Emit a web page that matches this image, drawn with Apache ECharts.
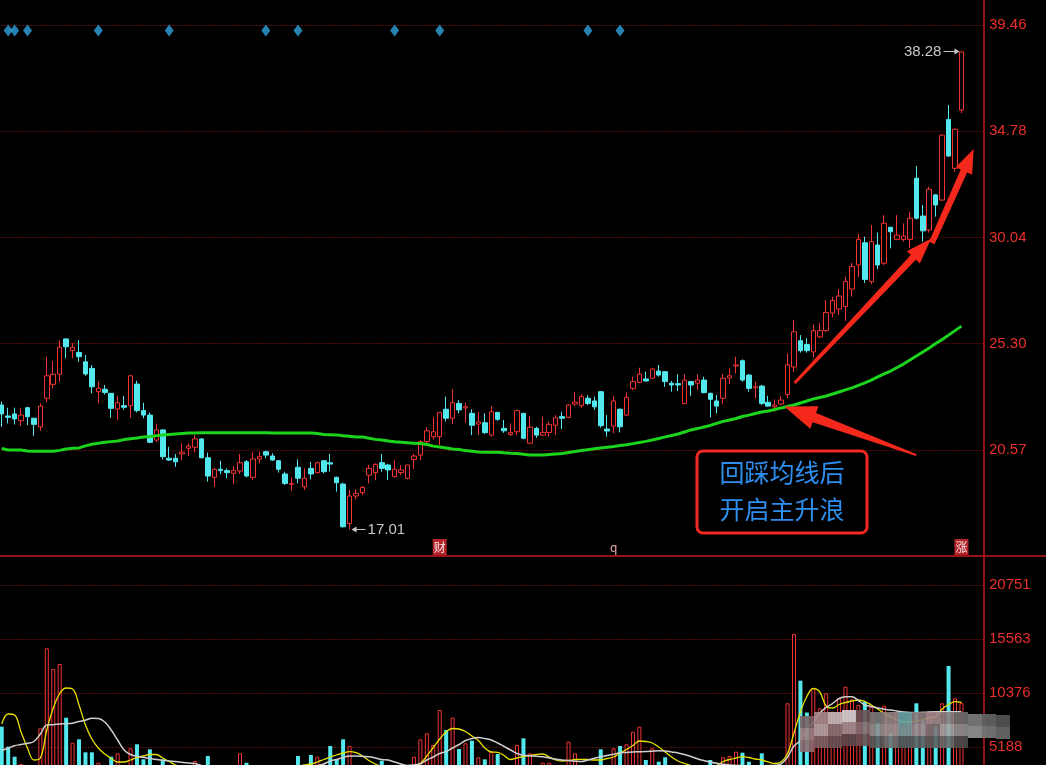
<!DOCTYPE html>
<html><head><meta charset="utf-8">
<script src="https://cdn.jsdelivr.net/npm/echarts@6/dist/echarts.min.js"></script>
<style>html,body{margin:0;padding:0;background:#000;overflow:hidden}#c{width:1046px;height:765px}</style>
</head><body><div id="c"></div>
<script>
// ---------- data ----------
const openP = [
22.55,22.06,22.15,21.85,22.43,21.96,21.58,22.85,23.47,23.92,
25.49,24.97,24.89,24.47,24.18,23.14,23.25,23.07,22.37,22.52,
22.52,23.48,22.30,22.10,20.99,21.44,20.18,20.18,20.37,20.62,
20.67,21.04,20.20,19.33,19.69,19.63,19.51,19.61,20.02,19.33,
20.15,20.47,20.28,20.07,19.48,19.02,19.78,18.91,19.73,19.54,
20.07,19.98,19.33,19.03,17.28,18.50,18.65,19.43,19.54,19.98,
19.88,19.36,19.54,19.29,20.13,20.32,20.92,21.14,21.14,22.36,
21.96,22.62,22.42,22.18,21.70,21.76,21.21,22.22,21.51,21.24,
21.36,22.18,20.85,21.51,21.21,21.33,21.65,22.03,22.00,22.59,
22.52,22.85,22.73,23.14,21.48,21.61,22.36,22.10,23.29,23.56,
23.71,23.74,24.06,24.03,23.52,23.50,22.62,23.59,23.52,23.66,
23.07,22.73,22.85,23.75,24.29,24.52,23.88,23.32,23.39,22.67,
22.47,22.59,23.01,24.24,25.41,25.24,24.91,25.58,25.86,26.64,
26.82,26.93,27.71,28.78,29.77,28.04,29.67,28.86,30.46,29.92,
29.92,29.92,32.64,30.96,30.34,31.90,31.67,35.26,33.08,35.68];
const closeP = [
22.15,22.00,21.93,22.10,22.03,21.69,22.50,23.85,23.92,25.12,
25.14,25.12,24.70,23.93,23.36,23.29,23.11,22.40,22.65,22.45,
23.85,22.30,22.10,20.89,21.44,20.25,20.10,20.02,20.45,20.72,
21.04,20.20,19.39,19.69,19.63,19.54,19.63,19.98,19.39,20.15,
20.25,20.32,20.10,19.69,19.06,19.06,19.29,19.29,19.48,19.98,
19.58,19.92,19.09,17.13,18.50,18.62,18.88,19.73,19.91,19.73,
19.66,19.69,19.66,19.88,20.28,20.92,21.40,21.36,22.21,21.96,
22.65,22.33,22.47,21.65,21.80,21.32,22.25,21.91,21.40,21.32,
22.30,21.07,21.56,21.21,21.33,21.69,21.98,21.96,22.55,22.68,
22.92,22.62,22.47,21.63,21.39,22.73,21.58,22.89,23.59,23.92,
23.62,24.15,23.88,23.59,23.44,23.44,23.66,23.44,23.66,23.10,
22.80,22.50,23.74,23.85,24.33,23.66,23.29,23.36,22.62,22.50,
22.55,22.77,24.33,25.81,24.97,24.97,25.86,25.86,26.67,27.20,
27.40,28.05,28.71,29.92,28.14,29.82,28.78,30.64,30.26,30.11,
30.07,30.86,30.86,30.30,32.15,31.45,34.56,33.63,34.82,38.26];
const lowP = [
21.58,21.73,21.68,21.62,21.65,21.18,21.40,22.67,23.29,23.59,
24.63,24.63,24.47,23.85,23.07,22.62,23.02,21.98,21.88,22.33,
21.98,22.22,21.96,20.85,20.90,20.13,20.06,19.80,20.10,20.28,
20.43,20.18,19.14,18.91,19.47,19.29,19.02,19.48,19.33,19.21,
19.95,20.18,20.07,19.54,18.99,18.73,19.06,18.77,19.24,19.51,
19.51,19.58,18.69,17.10,17.01,18.35,18.54,19.06,19.21,19.58,
19.21,19.33,19.43,19.24,19.69,20.10,20.85,21.02,20.77,21.81,
21.70,22.18,21.76,21.21,21.21,21.26,21.14,21.85,21.31,21.17,
21.21,21.02,20.81,21.09,21.18,21.14,21.21,21.48,21.96,22.50,
22.43,22.55,22.33,21.54,21.14,21.29,21.33,22.07,23.22,23.52,
23.59,23.71,23.81,23.36,23.14,23.17,22.58,22.96,23.22,23.07,
22.00,22.18,22.59,23.48,23.96,23.59,23.14,22.85,22.55,22.47,
22.25,22.55,22.85,24.02,24.88,24.88,24.66,25.53,25.81,26.45,
26.55,26.30,27.37,28.24,27.98,27.93,28.59,28.78,29.52,29.89,
29.82,29.52,30.81,29.82,30.22,30.93,31.64,33.60,32.93,35.54];
const highP = [
22.70,22.43,22.43,22.43,22.47,21.96,22.62,24.70,24.51,25.44,
25.52,25.30,25.44,24.77,24.33,23.59,23.44,23.07,22.96,22.95,
23.88,23.63,22.65,22.21,21.72,21.47,20.69,20.37,20.84,20.84,
21.21,21.07,20.43,19.73,20.07,19.73,19.83,20.37,20.10,20.47,
20.47,20.52,20.40,20.10,19.58,19.33,20.13,19.73,20.02,20.02,
20.07,20.37,19.36,19.09,18.77,18.80,18.94,19.88,19.95,20.37,
19.92,20.10,19.88,19.88,20.37,20.99,21.56,22.00,22.21,22.92,
23.25,22.77,22.65,22.36,22.25,22.18,22.50,22.25,21.88,21.73,
22.33,22.18,22.06,21.58,22.03,21.80,22.10,22.25,22.58,23.13,
23.03,22.99,22.92,23.17,22.10,22.95,22.40,23.11,23.81,24.21,
24.03,24.21,24.33,24.06,23.62,23.92,23.92,23.62,23.92,23.81,
23.10,22.99,23.93,24.18,24.70,24.58,23.93,23.59,23.44,22.96,
22.80,22.95,24.85,26.33,25.66,25.52,26.13,26.20,27.22,27.36,
27.70,28.26,28.87,30.16,30.04,30.56,30.22,31.00,30.46,31.00,
30.63,31.15,33.19,31.45,32.26,31.94,34.60,35.90,34.85,38.28];
const ma120 = [
20.61,20.55,20.55,20.55,20.50,20.49,20.49,20.49,20.49,20.53,
20.59,20.62,20.64,20.73,20.80,20.85,20.89,20.92,20.95,21.01,
21.05,21.08,21.13,21.15,21.18,21.22,21.24,21.26,21.28,21.30,
21.30,21.31,21.31,21.31,21.31,21.31,21.31,21.31,21.31,21.31,
21.31,21.31,21.30,21.30,21.30,21.30,21.30,21.30,21.30,21.28,
21.24,21.23,21.22,21.18,21.16,21.13,21.13,21.07,21.02,20.99,
20.95,20.91,20.89,20.87,20.85,20.84,20.79,20.72,20.68,20.64,
20.59,20.57,20.52,20.49,20.46,20.45,20.45,20.45,20.42,20.40,
20.39,20.36,20.32,20.32,20.32,20.35,20.37,20.39,20.44,20.48,
20.52,20.56,20.60,20.64,20.67,20.70,20.75,20.78,20.83,20.88,
20.93,20.99,21.06,21.13,21.19,21.26,21.35,21.44,21.50,21.57,
21.64,21.73,21.82,21.88,21.95,22.04,22.10,22.17,22.24,22.28,
22.35,22.42,22.48,22.55,22.64,22.73,22.82,22.88,22.95,23.04,
23.13,23.22,23.31,23.42,23.53,23.66,23.80,23.93,24.06,24.22,
24.37,24.55,24.73,24.91,25.09,25.29,25.46,25.66,25.86,26.06];
const volume = [
7138,5217,4256,3555,3000,2800,6984,14670,12681,13162,
8003,5601,5927,4678,4678,3680,3000,4256,4582,3100,
5063,5447,4006,4967,3000,4006,2900,2800,3100,2700,
3843,2900,4323,3000,2600,2500,2700,4582,3680,3200,
2800,2600,2500,2900,3300,2600,4323,3200,4419,4256,
3300,5284,4006,5927,5284,3400,3100,3300,3200,3872,
2900,3000,2700,3300,4256,5927,6504,5380,8742,6821,
8003,4996,5543,5793,4198,4000,4736,4515,3300,3100,
5380,6023,4582,3300,3680,3680,3200,3000,5697,4582,
3400,3000,3300,4967,3200,5063,5284,5447,6658,7138,
3939,5063,3775,4198,3300,3000,3400,3100,3200,3300,
3939,3200,4198,4323,4736,4640,3775,3300,4582,3000,
2800,3200,9386,16044,11557,8500,10827,8900,10347,8579,
9866,10981,9770,9223,9540,9059,7500,9127,6500,8579,
7000,8200,9386,7800,8600,7200,9386,12969,9866,9400];
const volMA5 = [
7397,8358,8262,6629,5092,3939,4131,6821,8935,10328,
10856,10760,9223,7301,5956,5092,4515,4083,3747,3747,
3939,4179,4323,4467,4467,4131,3795,3458,3200,3000,
2900,2900,3000,3050,3000,2850,2800,2950,3000,3050,
2950,2900,2850,2900,3000,3200,3362,3458,3555,3747,
3987,4227,4419,4611,4736,4640,4323,3891,3555,3300,
3100,3000,3050,3250,3410,3622,4323,5140,5956,6658,
6966,6917,6677,6245,5812,5092,4707,4679,4371,3987,
4131,4275,4371,4467,4515,4227,3939,3843,3891,3987,
4006,3987,3939,3939,4083,4227,4611,4948,5332,5764,
5716,5572,5188,4707,4227,3843,3603,3400,3350,3300,
3380,3420,3795,3987,4131,4256,4179,4035,3939,3747,
3603,3747,4563,6533,8550,10039,10808,10472,9127,8935,
9271,9463,9607,9703,9559,9223,8838,8406,8070,7782,
7590,7590,7686,7830,7974,8118,8838,9271,9540,9463];
const volMA10 = [
4852,5063,5313,5428,5543,5716,6437,7301,7330,7397,
7426,7474,7638,7762,7945,7926,7590,6821,5860,4900,
4467,4294,4198,4083,3987,3910,3843,3795,3718,3651,
3603,3400,3350,3300,3250,3200,3150,3150,3150,3150,
3100,3050,3000,3000,3000,3050,3100,3200,3300,3400,
3555,3843,3987,4179,4323,4323,4294,4256,4131,3987,
3939,3747,3555,3410,3458,3574,3939,4227,4563,4755,
5092,5428,5812,6004,6100,6004,5860,5572,5236,4900,
4563,4400,4352,4294,4246,4131,4035,3939,3891,3824,
3785,3939,4102,4246,4371,4496,4631,4669,4707,4727,
4746,4784,4823,4804,4707,4611,4467,4275,4064,3891,
3747,3622,3535,3450,3420,3400,3380,3380,3390,3400,
3420,3555,4227,5284,5812,6917,7541,8454,8982,9367,
9847,10020,10020,9655,9223,9079,8935,8810,8742,8646,
8550,8502,8502,8521,8550,8569,8579,8579,8579,8579];
const priceTicks = ['', '20.57', '25.30', '30.04', '34.78', '39.46'];
const volTicks = ['', '5188', '10376', '15563', '20751'];
const signalDays = [1, 2, 4, 15, 26, 41, 46, 61, 68, 91, 96];
const eventMarks = [
  {day: 68, text: '财', box: true},
  {day: 95, text: 'q', box: false},
  {day: 149, text: '涨', box: true}
];
const lowMark = {day: 54, value: 17.01, text: '17.01'};
const highMark = {day: 149, value: 38.28, text: '38.28'};
const noteLines = ['回踩均线后', '开启主升浪'];
const SLOTS = 153;
const categories = Array.from({length: SLOTS}, (_, i) => String(i + 1));

// ---------- styles ----------
const RED = '#f23333', CYAN = '#52e8ee', GREEN = '#1bd41b', AXISRED = '#e8302c';
const P_MIN = 15.83, P_MAX = 39.46, P_STEP = (P_MAX - P_MIN) / 5;
const V_MAX = 20751, V_STEP = V_MAX / 4;
const GRIDLINE = {color: '#a81818', type: [1, 2], width: 1};

const chart = echarts.init(document.getElementById('c'), null, {renderer: 'canvas'});
const candles = openP.map((o, i) => [o, closeP[i], lowP[i], highP[i]]);
const volBars = volume.map((v, i) => ({
  value: v,
  itemStyle: closeP[i] >= openP[i]
    ? {color: '#000', borderColor: RED, borderWidth: 1}
    : {color: CYAN, borderColor: CYAN, borderWidth: 0}
}));

const option = {
  animation: false,
  backgroundColor: '#000',
  grid: [
    {left: -1.5, right: 62, top: 25, height: 531, outerBoundsMode: 'none', containLabel: false},
    {left: -1.5, right: 62, top: 585, height: 216, outerBoundsMode: 'none', containLabel: false}
  ],
  xAxis: [
    {type: 'category', gridIndex: 0, data: categories, boundaryGap: true, show: false},
    {type: 'category', gridIndex: 1, data: categories, boundaryGap: true, show: false}
  ],
  yAxis: [
    {type: 'value', gridIndex: 0, position: 'right', min: P_MIN, max: P_MAX, interval: P_STEP,
     axisLine: {show: false}, axisTick: {show: false},
     axisLabel: {color: AXISRED, fontSize: 15, margin: 5, fontFamily: 'Liberation Sans, Arial',
       formatter: v => priceTicks[Math.round((v - P_MIN) / P_STEP)] || ''},
     splitLine: {lineStyle: GRIDLINE}},
    {type: 'value', gridIndex: 1, position: 'right', min: 0, max: V_MAX, interval: V_STEP,
     axisLine: {show: false}, axisTick: {show: false},
     axisLabel: {color: AXISRED, fontSize: 15, margin: 5, fontFamily: 'Liberation Sans, Arial',
       formatter: v => volTicks[Math.round(v / V_STEP)] || ''},
     splitLine: {lineStyle: GRIDLINE}}
  ],
  series: [
    {type: 'candlestick', xAxisIndex: 0, yAxisIndex: 0, data: candles, barWidth: 5, z: 3,
     itemStyle: {color: '#000', color0: CYAN, borderColor: RED, borderColor0: CYAN, borderWidth: 1}},
    {type: 'line', xAxisIndex: 0, yAxisIndex: 0, data: ma120, symbol: 'none', z: 4,
     lineStyle: {color: GREEN, width: 3}},
    {type: 'scatter', xAxisIndex: 0, yAxisIndex: 0, data: signalDays.map(d => [d, 39.22]),
     symbol: 'diamond', symbolSize: [9, 12], itemStyle: {color: '#2fa2dc'}, z: 5},
    {type: 'bar', xAxisIndex: 1, yAxisIndex: 1, data: volBars, barWidth: 4, z: 3},
    {type: 'line', xAxisIndex: 1, yAxisIndex: 1, data: volMA5, symbol: 'none', smooth: 0.4, z: 4,
     lineStyle: {color: '#e6e200', width: 1.3}},
    {type: 'line', xAxisIndex: 1, yAxisIndex: 1, data: volMA10, symbol: 'none', smooth: 0.4, z: 4,
     lineStyle: {color: '#cfcfcf', width: 1.5}}
  ]
};
chart.setOption(option);

// ---------- annotations positioned through the chart's own scales ----------
function pt(day, price) {
  const a = chart.convertToPixel({xAxisIndex: 0, yAxisIndex: 0}, [0, price]);
  const b = chart.convertToPixel({xAxisIndex: 0, yAxisIndex: 0}, [1, price]);
  return [a[0] + day * (b[0] - a[0]), a[1]];
}
function arrow(t, h, wT, wB, wH, lH) {
  const dx = h[0] - t[0], dy = h[1] - t[1], L = Math.hypot(dx, dy);
  const ux = dx / L, uy = dy / L, nx = -uy, ny = ux;
  const bx = h[0] - ux * lH, by = h[1] - uy * lH;
  return [[t[0] + nx * wT / 2, t[1] + ny * wT / 2], [bx + nx * wB / 2, by + ny * wB / 2],
          [bx + nx * wH / 2, by + ny * wH / 2], h, [bx - nx * wH / 2, by - ny * wH / 2],
          [bx - nx * wB / 2, by - ny * wB / 2], [t[0] - nx * wT / 2, t[1] - ny * wT / 2]];
}
const arrows = [
  {tail: [142.0, 20.32], head: [121.5, 22.48], w: [2, 10, 24, 32]},
  {tail: [123.1, 23.53], head: [144.3, 29.96], w: [3, 7, 18, 26]},
  {tail: [144.4, 29.76], head: [150.9, 33.94], w: [6, 7, 18, 24]}
];
const els = [];
arrows.forEach(a => {
  els.push({type: 'polygon', z: 100,
    shape: {points: arrow(pt(a.tail[0], a.tail[1]), pt(a.head[0], a.head[1]), ...a.w)},
    style: {fill: '#f5281c'}});
});
// separators
const gridBottom = pt(0, P_MIN)[1];
const axisX = pt(SLOTS - 0.5, P_MIN)[0];
els.push({type: 'line', z: 90, shape: {x1: 0, y1: gridBottom, x2: 1046, y2: gridBottom},
  style: {stroke: '#c21a1a', lineWidth: 1.5}});
els.push({type: 'line', z: 90, shape: {x1: axisX, y1: 0, x2: axisX, y2: 765},
  style: {stroke: '#c21a1a', lineWidth: 1.5}});
// pixelated privacy mosaic over the volume panel (decoration in the reference)
const mosaic = [
  {x: 800, y: 716, c: ['#7b6366', '#9c8083', '#8c6d70']},
  {x: 814, y: 712, c: ['#a6898c', '#b7a1a4', '#7e6164']},
  {x: 828, y: 712, c: ['#c9b9bc', '#8d7275', '#6a5255']},
  {x: 842, y: 710, c: ['#d9d3d5', '#a48d90', '#5f4a4d']},
  {x: 856, y: 710, c: ['#6d5154', '#8a6e71', '#704f53']},
  {x: 870, y: 712, c: ['#7a7a7a', '#8e8e8e', '#5a5a5a']},
  {x: 884, y: 712, c: ['#968585', '#a39393', '#6f6f6f']},
  {x: 898, y: 712, c: ['#6aa2a6', '#7c9a9c', '#515f60']},
  {x: 912, y: 712, c: ['#8b7b7d', '#9d8689', '#5d5d5d']},
  {x: 926, y: 712, c: ['#a38a8d', '#7f7276', '#5c5c5c']},
  {x: 940, y: 712, c: ['#8e7e80', '#a3a3a3', '#6a6a6a']},
  {x: 954, y: 712, c: ['#6e6e6e', '#8f8f8f', '#4c4c4c']},
  {x: 968, y: 714, c: ['#7d7d7d', '#959595']},
  {x: 982, y: 714, c: ['#666666', '#7a7a7a']},
  {x: 996, y: 715, c: ['#555555', '#6a6a6a']}
];
mosaic.forEach(col => {
  col.c.forEach((color, r) => {
    els.push({type: 'rect', z: 95, shape: {x: col.x, y: col.y + r * 12, width: 14, height: 12},
      style: {fill: color, opacity: 0.9}});
  });
});
// note box
els.push({type: 'rect', z: 100, shape: {x: 697, y: 451, width: 170, height: 82, r: 6},
  style: {fill: 'rgba(0,0,0,0)', stroke: '#f02a22', lineWidth: 3}});
noteLines.forEach((t, k) => {
  els.push({type: 'text', z: 101, x: 782, y: 472 + k * 37,
    style: {text: t, fill: '#2d8ff0', font: '25px "Noto Sans CJK SC"', align: 'center', verticalAlign: 'middle'}});
});
// low / high labels
const lp = pt(lowMark.day, lowMark.value);
els.push({type: 'line', z: 100, shape: {x1: lp[0] + 3, y1: lp[1], x2: lp[0] + 16, y2: lp[1]},
  style: {stroke: '#c8c8c8', lineWidth: 1}});
els.push({type: 'polygon', z: 100, shape: {points: [[lp[0] + 2, lp[1]], [lp[0] + 7, lp[1] - 3], [lp[0] + 7, lp[1] + 3]]},
  style: {fill: '#c8c8c8'}});
els.push({type: 'text', z: 100, x: lp[0] + 18, y: lp[1],
  style: {text: lowMark.text, fill: '#c8c8c8', font: '15px "Liberation Sans"', verticalAlign: 'middle'}});
const hp = pt(highMark.day, highMark.value);
els.push({type: 'line', z: 100, shape: {x1: hp[0] - 18, y1: hp[1], x2: hp[0] - 3, y2: hp[1]},
  style: {stroke: '#c8c8c8', lineWidth: 1}});
els.push({type: 'polygon', z: 100, shape: {points: [[hp[0] - 2, hp[1]], [hp[0] - 7, hp[1] - 3], [hp[0] - 7, hp[1] + 3]]},
  style: {fill: '#c8c8c8'}});
els.push({type: 'text', z: 100, x: hp[0] - 20, y: hp[1],
  style: {text: highMark.text, fill: '#c8c8c8', font: '15px "Liberation Sans"', align: 'right', verticalAlign: 'middle'}});
// event marks on the bottom row
eventMarks.forEach(m => {
  const p = pt(m.day, P_MIN);
  if (m.box) {
    els.push({type: 'rect', z: 100, shape: {x: p[0] - 7, y: gridBottom - 17, width: 14, height: 16},
      style: {fill: '#b3242a'}});
  }
  els.push({type: 'text', z: 101, x: p[0], y: gridBottom - 9,
    style: {text: m.text, fill: m.box ? '#f4e6e6' : '#e9a9a9', font: '12px "Noto Sans CJK SC"', align: 'center', verticalAlign: 'middle'}});
});
chart.setOption({graphic: {elements: els}});
</script>
</body></html>
